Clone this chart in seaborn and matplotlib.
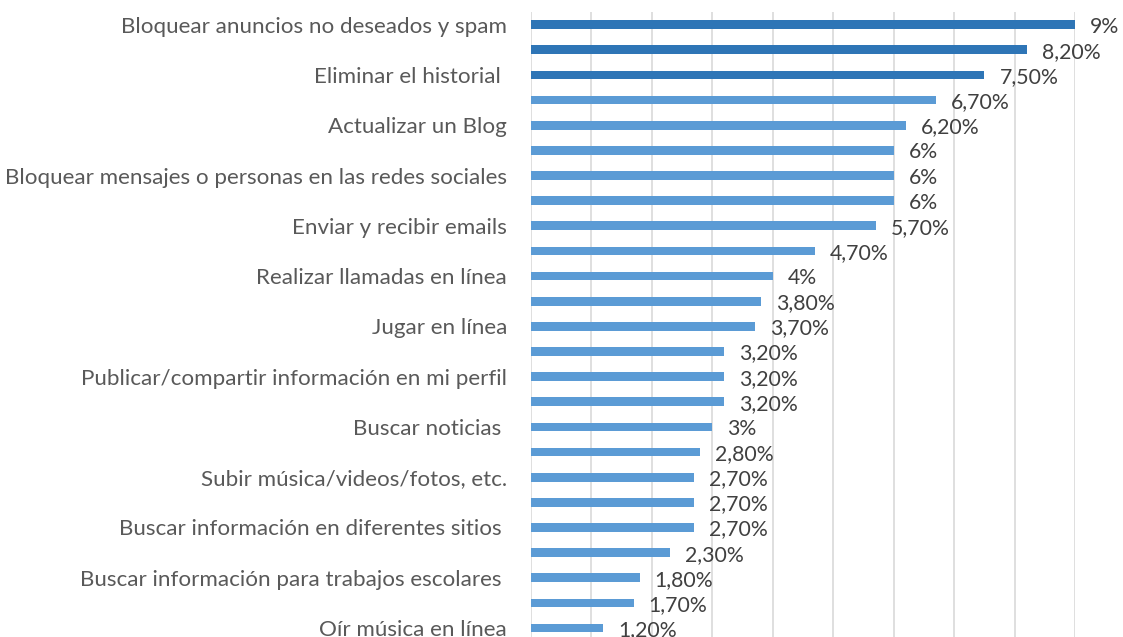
import matplotlib
matplotlib.use("Agg")
import matplotlib.pyplot as plt
import seaborn as sns
import pandas as pd

labels = [
    "Bloquear anuncios no deseados y spam", "",
    "Eliminar el historial ", "",
    "Actualizar un Blog", "",
    "Bloquear mensajes o personas en las redes sociales", "",
    "Enviar y recibir emails", "",
    "Realizar llamadas en línea", "",
    "Jugar en línea", "",
    "Publicar/compartir información en mi perfil", "",
    "Buscar noticias ", "",
    "Subir música/videos/fotos, etc.", "",
    "Buscar información en diferentes sitios ", "",
    "Buscar información para trabajos escolares ", "",
    "Oír música en línea",
]
values = [9, 8.2, 7.5, 6.7, 6.2, 6, 6, 6, 5.7, 4.7, 4, 3.8, 3.7,
          3.2, 3.2, 3.2, 3, 2.8, 2.7, 2.7, 2.7, 2.3, 1.8, 1.7, 1.2]
value_text = ["9%", "8,20%", "7,50%", "6,70%", "6,20%", "6%", "6%", "6%",
              "5,70%", "4,70%", "4%", "3,80%", "3,70%", "3,20%", "3,20%",
              "3,20%", "3%", "2,80%", "2,70%", "2,70%", "2,70%", "2,30%",
              "1,80%", "1,70%", "1,20%"]
group = ["top"] * 3 + ["rest"] * 22

sns.set_theme(style="white")
plt.rcParams["font.family"] = ["Lato", "DejaVu Sans"]

df = pd.DataFrame({"pos": [str(i) for i in range(len(values))],
                   "value": values, "group": group})

fig = plt.figure(figsize=(11.23, 6.37), dpi=100)
ax = fig.add_axes([530.7 / 1123, -0.0057, (1075.2 - 530.7) / 1123, 0.981 + 0.0057])

sns.barplot(data=df, x="value", y="pos", hue="group", order=df["pos"],
            palette={"top": "#2E75B6", "rest": "#5B9BD5"}, width=0.35,
            dodge=False, legend=False, ax=ax, edgecolor="none", saturation=1)

ax.set_xlim(0, 9)
ax.set_xticks(range(0, 10))
ax.xaxis.grid(True, color="#D9D9D9", linewidth=1.2)
ax.set_axisbelow(True)
ax.tick_params(axis="x", bottom=False, labelbottom=False)
ax.tick_params(axis="y", left=False, pad=11)
ax.set_yticks(range(len(labels)))
ax.set_yticklabels(labels, fontsize=16.1, color="#595959")
ax.set_xlabel("")
ax.set_ylabel("")
for s in ax.spines.values():
    s.set_visible(False)

for i, (v, t) in enumerate(zip(values, value_text)):
    ax.text(v + 0.25, i + 0.08, t, va="center", ha="left", fontsize=15.3,
            color="#404040", clip_on=False)

fig.savefig("out.png", dpi=100)
